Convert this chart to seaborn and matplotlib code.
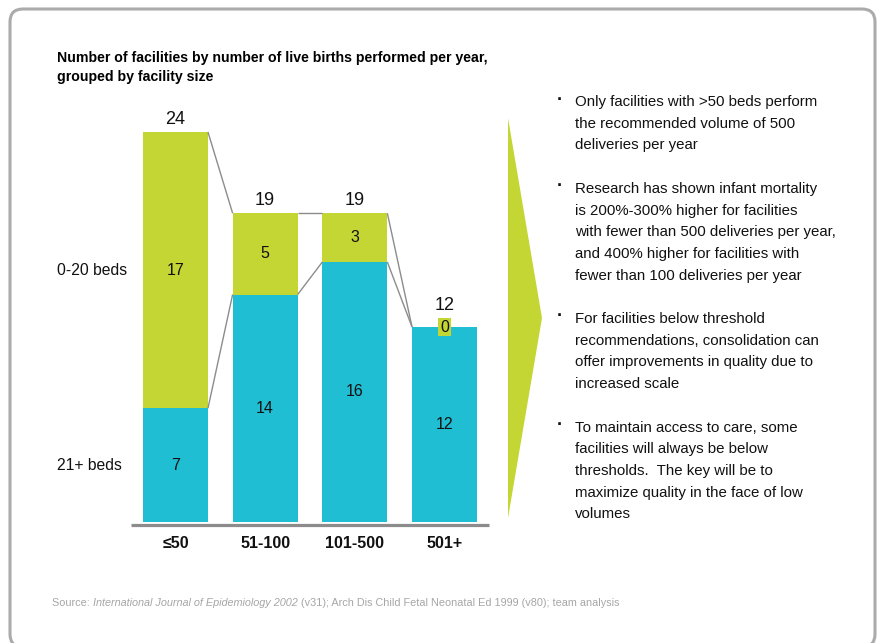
import matplotlib
matplotlib.use("Agg")
import matplotlib.pyplot as plt
import pandas as pd
import seaborn as sns
from matplotlib.patches import FancyBboxPatch, Polygon
from matplotlib.transforms import IdentityTransform, blended_transform_factory

# ---- data -------------------------------------------------------------
categories = ["≤50", "51-100", "101-500", "501+"]
small_beds = [17, 5, 3, 0]      # facilities with 0-20 beds
large_beds = [7, 14, 16, 12]    # facilities with 21+ beds
totals = [24, 19, 19, 12]
row_labels = ["0-20 beds", "21+ beds"]

title_lines = [
    "Number of facilities by number of live births performed per year,",
    "grouped by facility size",
]
bullet_paragraphs = [
    ["Only facilities with >50 beds perform",
     "the recommended volume of 500",
     "deliveries per year"],
    ["Research has shown infant mortality",
     "is 200%-300% higher for facilities",
     "with fewer than 500 deliveries per year,",
     "and 400% higher for facilities with",
     "fewer than 100 deliveries per year"],
    ["For facilities below threshold",
     "recommendations, consolidation can",
     "offer improvements in quality due to",
     "increased scale"],
    ["To maintain access to care, some",
     "facilities will always be below",
     "thresholds.  The key will be to",
     "maximize quality in the face of low",
     "volumes"],
]
source_parts = [
    ("Source: ", "normal"),
    ("International Journal of Epidemiology 2002", "italic"),
    (" (v31); Arch Dis Child Fetal Neonatal Ed 1999 (v80); team analysis", "normal"),
]

# ---- style ------------------------------------------------------------
GREEN = "#C4D633"
CYAN = "#1FBED3"
LINE_GREY = "#8C8C8C"
FRAME_GREY = "#ABABAB"
SOURCE_GREY = "#A6A6A6"
TEXT = "#111111"

sns.set_theme(style="white")
plt.rcParams["font.family"] = ["Liberation Sans", "DejaVu Sans"]

W, H = 877, 643
fig = plt.figure(figsize=(W / 100, H / 100), dpi=100)
fig.patch.set_facecolor("white")


def fx(x):
    return x / W


def fy(y):
    return 1 - y / H


# rounded frame around the whole panel
frame = FancyBboxPatch((10, -4), 865, 638,
                       boxstyle="round,pad=0,rounding_size=13",
                       transform=IdentityTransform(), fill=False,
                       edgecolor=FRAME_GREY, linewidth=2.2)
fig.add_artist(frame)

# ---- bar chart --------------------------------------------------------
bar_w = 0.725
px_per_unit = 16.25
y_floor = -0.2
ax_left, ax_right = 130.6, 489.4
ax_bottom_px = 522 + (-y_floor) * px_per_unit
ax_top_px = 100
ax = fig.add_axes([fx(ax_left), fy(ax_bottom_px),
                   (ax_right - ax_left) / W, (ax_bottom_px - ax_top_px) / H])
ax.set_facecolor("none")

df = pd.DataFrame({"delivery": categories, "total": totals,
                   "small": small_beds, "large": large_beds})
sns.barplot(data=df, x="delivery", y="total", order=categories, color=GREEN,
            saturation=1, width=bar_w, errorbar=None, linewidth=0, ax=ax)
sns.barplot(data=df, x="delivery", y="large", order=categories, color=CYAN,
            saturation=1, width=bar_w, errorbar=None, linewidth=0, ax=ax)

ax.set_xlim(-0.5, len(categories) - 0.5)
ax.set_ylim(y_floor, y_floor + (ax_bottom_px - ax_top_px) / px_per_unit)
for s in ax.spines.values():
    s.set_visible(False)
ax.set_xlabel("")
ax.set_ylabel("")
ax.set_yticks([])
ax.tick_params(axis="x", length=0, pad=8, labelsize=11.5, labelcolor=TEXT)
for lab in ax.get_xticklabels():
    lab.set_fontweight("bold")

# baseline
ax.plot([-0.5, len(categories) - 0.5], [y_floor, y_floor], color=LINE_GREY,
        lw=2.3, solid_capstyle="butt", clip_on=False)

# connectors between neighbouring bars
half = bar_w / 2
for i in range(len(categories) - 1):
    for series in (totals, large_beds):
        ax.plot([i + half, i + 1 - half], [series[i], series[i + 1]],
                color=LINE_GREY, lw=1.0, solid_capstyle="butt")

# value labels
for i, (t, s, l) in enumerate(zip(totals, small_beds, large_beds)):
    lift = 3 if s > 0 else 9
    ax.annotate(str(t), (i, t), xytext=(0, lift), textcoords="offset points",
                ha="center", va="bottom", fontsize=13, color=TEXT)
    ax.text(i, l / 2, str(l), ha="center", va="center", fontsize=11.5, color=TEXT)
    if s > 0:
        ax.text(i, l + s / 2, str(s), ha="center", va="center", fontsize=11.5,
                color=TEXT)
    else:
        ax.text(i, t, str(s), ha="center", va="center", fontsize=11.5, color=TEXT,
                bbox=dict(boxstyle="square,pad=0.12", facecolor=GREEN, edgecolor="none"))

# row labels on the left
row_tr = blended_transform_factory(fig.transFigure, ax.transData)
ax.text(fx(57), large_beds[0] + small_beds[0] / 2, row_labels[0], transform=row_tr,
        ha="left", va="center", fontsize=11.3, color=TEXT)
ax.text(fx(57), large_beds[0] / 2, row_labels[1], transform=row_tr,
        ha="left", va="center", fontsize=11.3, color=TEXT)

# ---- title ------------------------------------------------------------
for k, line in enumerate(title_lines):
    fig.text(fx(57), fy(58 + 19 * k), line, ha="left", va="center",
             fontsize=10.2, fontweight="bold", color="black")

# ---- chevron and bullet text --------------------------------------------
chevron = Polygon([(fx(508), fy(118)), (fx(542), fy(318)), (fx(508), fy(518))],
                  closed=True, transform=fig.transFigure, facecolor=GREEN,
                  edgecolor="none")
fig.add_artist(chevron)

line_h = 21.7
row = 0
for para in bullet_paragraphs:
    fig.text(fx(560), fy(102 + line_h * row - 2), "·", ha="center", va="center",
             fontsize=13, fontweight="bold", color=TEXT)
    for line in para:
        fig.text(fx(575), fy(102 + line_h * row), line, ha="left", va="center",
                 fontsize=10.8, color=TEXT)
        row += 1
    row += 1

# ---- source line --------------------------------------------------------
renderer = fig.canvas.get_renderer()
x_cursor = 52
for text, style in source_parts:
    t = fig.text(fx(x_cursor), fy(603), text, ha="left", va="center",
                 fontsize=7.8, style=style, color=SOURCE_GREY)
    x_cursor += t.get_window_extent(renderer=renderer).width

fig.savefig("out.png", dpi=100)
